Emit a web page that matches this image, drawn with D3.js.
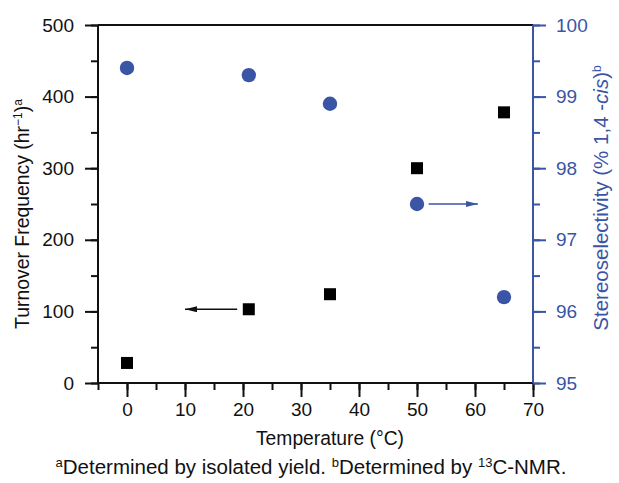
<!DOCTYPE html>
<html>
<head>
<meta charset="utf-8">
<script src="https://cdn.jsdelivr.net/npm/d3@7"></script>
<style>
  html, body { margin: 0; padding: 0; background: #fff; }
  svg { display: block; font-family: "Liberation Sans", Arial, Helvetica, sans-serif; }
</style>
</head>
<body>
<svg id="chart" width="619" height="483"></svg>
<script>
// Data
const temperatures = [0, 21, 35, 50, 65];
const turnoverFreq = [28, 103, 124, 300, 378];        // left axis, hr^-1
const selectivity  = [99.4, 99.3, 98.9, 97.5, 96.2];  // right axis, % 1,4-cis

const xTicks = [0, 10, 20, 30, 40, 50, 60, 70];
const leftTicks = [0, 100, 200, 300, 400, 500];
const rightTicks = [95, 96, 97, 98, 99, 100];

// Annotation arrows (data units): [x1, x2, y]
const tofArrow = [19, 10, 103];
const selArrow = [52, 60.5, 97.5];

const BLUE = '#3a55a5';
const BLACK = '#111';

const M = { left: 98, right: 533, top: 25, bottom: 383 };

const svg = d3.select('#chart');

const x = d3.scaleLinear().domain([-5, 70]).range([M.left, M.right]);
const yL = d3.scaleLinear().domain([0, 500]).range([M.bottom, M.top]);
const yR = d3.scaleLinear().domain([95, 100]).range([M.bottom, M.top]);

// ── Axes ────────────────────────────────────────────────────────────────────

function styleAxis(g, color) {
  g.select('.domain').remove();
  g.selectAll('line').attr('stroke', color).attr('stroke-width', 2);
  g.selectAll('text').attr('fill', color).style('font-size', '19px')
    .style('font-family', '"Liberation Sans", Arial, sans-serif');
}

// minor ticks first
svg.append('g')
  .attr('transform', `translate(0,${M.bottom})`)
  .call(d3.axisBottom(x).tickValues(d3.range(-5, 71, 5)).tickSize(7).tickFormat(''))
  .call(g => styleAxis(g, BLACK));
svg.append('g')
  .attr('transform', `translate(${M.left},0)`)
  .call(d3.axisLeft(yL).tickValues(d3.range(0, 501, 50)).tickSize(7).tickFormat(''))
  .call(g => styleAxis(g, BLACK));
svg.append('g')
  .attr('transform', `translate(${M.right},0)`)
  .call(d3.axisRight(yR).tickValues(d3.range(95, 100.01, 0.5)).tickSize(7).tickFormat(''))
  .call(g => styleAxis(g, BLUE));

// major ticks with labels
svg.append('g')
  .attr('transform', `translate(0,${M.bottom})`)
  .call(d3.axisBottom(x).tickValues(xTicks).tickSize(14).tickPadding(6).tickFormat(d3.format('d')))
  .call(g => styleAxis(g, BLACK));
svg.append('g')
  .attr('transform', `translate(${M.left},0)`)
  .call(d3.axisLeft(yL).tickValues(leftTicks).tickSize(13).tickPadding(11).tickFormat(d3.format('d')))
  .call(g => styleAxis(g, BLACK));
svg.append('g')
  .attr('transform', `translate(${M.right},0)`)
  .call(d3.axisRight(yR).tickValues(rightTicks).tickSize(13).tickPadding(10).tickFormat(d3.format('d')))
  .call(g => styleAxis(g, BLUE));

// frame lines
svg.append('line').attr('x1', M.left).attr('x2', M.right).attr('y1', M.bottom).attr('y2', M.bottom)
  .attr('stroke', BLACK).attr('stroke-width', 2);
svg.append('line').attr('x1', M.left).attr('x2', M.right).attr('y1', M.top).attr('y2', M.top)
  .attr('stroke', BLACK).attr('stroke-width', 2);
svg.append('line').attr('x1', M.left).attr('x2', M.left).attr('y1', M.top).attr('y2', M.bottom)
  .attr('stroke', BLACK).attr('stroke-width', 2);
svg.append('line').attr('x1', M.right).attr('x2', M.right).attr('y1', M.top).attr('y2', M.bottom)
  .attr('stroke', BLUE).attr('stroke-width', 2);

// ── Axis titles ─────────────────────────────────────────────────────────────

svg.append('text')
  .attr('x', 330).attr('y', 445)
  .attr('text-anchor', 'middle').style('font-size', '19.3px').attr('fill', BLACK)
  .text('Temperature (°C)');

const leftTitle = svg.append('text')
  .attr('transform', `translate(29,214) rotate(-90)`)
  .attr('text-anchor', 'middle').style('font-size', '19.4px').attr('fill', BLACK);
leftTitle.append('tspan').text('Turnover Frequency (hr');
leftTitle.append('tspan').attr('dy', -7).style('font-size', '12px').text('−1');
leftTitle.append('tspan').attr('dy', 7).text(')');
leftTitle.append('tspan').attr('dy', -7).style('font-size', '12px').text('a');

const rightTitle = svg.append('text')
  .attr('transform', `translate(608,198) rotate(-90)`)
  .attr('text-anchor', 'middle').style('font-size', '20.5px').attr('fill', BLUE);
rightTitle.append('tspan').text('Stereoselectivity (% 1,4 -');
rightTitle.append('tspan').style('font-style', 'italic').text('cis');
rightTitle.append('tspan').text(')');
rightTitle.append('tspan').attr('dy', -7).style('font-size', '12px').text('b');

// footnote
const foot = svg.append('text')
  .attr('x', 311).attr('y', 474)
  .attr('text-anchor', 'middle').style('font-size', '20.5px').attr('fill', BLACK);
foot.append('tspan').attr('dy', -7).style('font-size', '13px').text('a');
foot.append('tspan').attr('dy', 7).text('Determined by isolated yield. ');
foot.append('tspan').attr('dy', -7).style('font-size', '13px').text('b');
foot.append('tspan').attr('dy', 7).text('Determined by ');
foot.append('tspan').attr('dy', -7).style('font-size', '13px').text('13');
foot.append('tspan').attr('dy', 7).text('C-NMR.');

// ── Arrows ──────────────────────────────────────────────────────────────────

const defs = svg.append('defs');
function marker(id, color) {
  defs.append('marker')
    .attr('id', id).attr('viewBox', '0 0 12 6')
    .attr('refX', 12).attr('refY', 3)
    .attr('markerWidth', 12).attr('markerHeight', 6)
    .attr('markerUnits', 'userSpaceOnUse')
    .attr('orient', 'auto')
    .append('path').attr('d', 'M0,0 L12,3 L0,6 Z').attr('fill', color);
}
marker('arrBlack', BLACK);
marker('arrBlue', BLUE);

svg.append('line')
  .attr('x1', x(tofArrow[0])).attr('x2', x(tofArrow[1]))
  .attr('y1', yL(tofArrow[2])).attr('y2', yL(tofArrow[2]))
  .attr('stroke', BLACK).attr('stroke-width', 1.5)
  .attr('marker-end', 'url(#arrBlack)');

svg.append('line')
  .attr('x1', x(selArrow[0])).attr('x2', x(selArrow[1]))
  .attr('y1', yR(selArrow[2])).attr('y2', yR(selArrow[2]))
  .attr('stroke', BLUE).attr('stroke-width', 1.5)
  .attr('marker-end', 'url(#arrBlue)');

// ── Markers ─────────────────────────────────────────────────────────────────

const SQ = 12;
svg.append('g').selectAll('rect')
  .data(temperatures.map((t, i) => ({ t, v: turnoverFreq[i] })))
  .join('rect')
  .attr('x', d => x(d.t) - SQ / 2)
  .attr('y', d => yL(d.v) - SQ / 2)
  .attr('width', SQ).attr('height', SQ)
  .attr('fill', '#000');

svg.append('g').selectAll('circle')
  .data(temperatures.map((t, i) => ({ t, v: selectivity[i] })))
  .join('circle')
  .attr('cx', d => x(d.t))
  .attr('cy', d => yR(d.v))
  .attr('r', 7.2)
  .attr('fill', BLUE);
</script>
</body>
</html>
